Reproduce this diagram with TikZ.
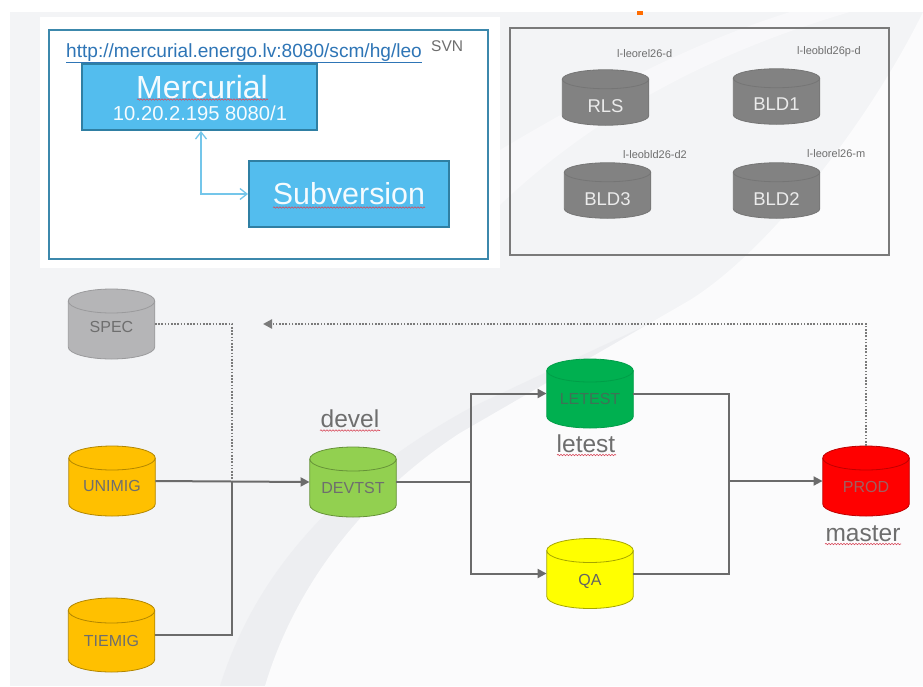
\documentclass[tikz,border=0pt]{standalone}
\usepackage{fontspec}
\setmainfont{Liberation Sans}
\usetikzlibrary{arrows.meta,decorations.pathmorphing}
\definecolor{panel}{HTML}{F3F4F6}
\definecolor{band}{HTML}{EDEEF1}
\definecolor{soft}{HTML}{FBFBFC}
\definecolor{line}{HTML}{6B6B6B}
\definecolor{txt}{HTML}{6E6E6E}
\definecolor{blue}{HTML}{53BDEE}
\definecolor{blueedge}{HTML}{2F7FA3}
\definecolor{frameblue}{HTML}{3C88AC}
\definecolor{lightarrow}{HTML}{74C6EA}
\definecolor{link}{HTML}{2E75B6}
\definecolor{squigred}{HTML}{D8485A}
\definecolor{devg}{HTML}{92D050}
\definecolor{letg}{HTML}{00B050}
\definecolor{qay}{HTML}{FFFF00}
\definecolor{prodr}{HTML}{FF0000}
\definecolor{amb}{HTML}{FFC000}
\definecolor{slate}{HTML}{828282}
\definecolor{specg}{HTML}{B5B5B7}
\tikzset{
  dbtext/.style={rectangle,inner sep=0pt,text height=0pt,text depth=0pt,font=\fontsize{16}{18}\selectfont,text=txt},
  graytext/.style={dbtext,text=white!92!black,font=\fontsize{18.5}{20}\selectfont},
  lettext/.style={dbtext,text=black!30!gray!70!letg},
  qatext/.style={dbtext,text=txt!90!black},
  prodtext/.style={dbtext,text=gray!75!prodr},
  bluebox/.style={rectangle,draw=blueedge,fill=blue,line width=2pt,text=white!94!blue,inner sep=0pt,align=center},
  flow/.style={draw=line,line width=2pt},
  arrowed/.style={-{Triangle[length=9pt,width=9pt]}},
  dots/.style={draw=line!90,line width=2.2pt,dash pattern=on 1.6pt off 1.6pt},
  hostlabel/.style={text=txt,font=\fontsize{11}{13}\selectfont,inner sep=0pt},
  biglabel/.style={text=txt,font=\fontsize{24.5}{26}\selectfont,inner sep=0pt},
  squig/.style={draw=squigred,line width=0.6pt,decorate,decoration={snake,amplitude=0.7pt,segment length=3pt}},
}
% \dbcyl{style}{name}{x}{y}{half height}{y radius}{fill}{edge}{text drop}{label}
\newcommand{\dbcyl}[8]{%
  \def\cylstyle{#1}\def\cylname{#2}\def\cylx{#3}\def\cyly{#4}\def\cylhh{#5}\def\cylry{#6}\def\cylfill{#7}\def\cyledge{#8}\dbcylfinish}
\newcommand{\dbcylfinish}[2]{%
  \begin{scope}[shift={(\cylx,\cyly)}]
    \path[fill=\cylfill,draw=\cyledge,line width=0.8pt]
      (-43.25,-\cylhh+\cylry) arc[start angle=180,end angle=0,x radius=43.25pt,y radius=\cylry pt]
      -- (43.25,\cylhh-\cylry) arc[start angle=0,end angle=-180,x radius=43.25pt,y radius=\cylry pt] -- cycle;
    \draw[draw=\cyledge,line width=0.8pt]
      (-43.25,-\cylhh+\cylry) arc[start angle=180,end angle=360,x radius=43.25pt,y radius=\cylry pt];
  \end{scope}
  \node[\cylstyle,minimum width=86.5pt,minimum height=2*\cylhh pt] (\cylname) at (\cylx,\cyly) {\raisebox{-#1pt}{#2}};
}
\begin{document}
\begin{tikzpicture}[x=1pt,y=-1pt]
\useasboundingbox (0,0) rectangle (923,686);
\fill[white] (0,0) rectangle (923,686);
\fill[panel] (10,12) rectangle (923,686);
% background swoosh
\fill[band] (220,686) .. controls (250,590) and (320,490) .. (470,408) -- (700,300) -- (700,420) -- (400,686) -- cycle;
\fill[soft] (265,686) .. controls (295,585) and (365,495) .. (460,433)
  -- (690,300) .. controls (770,250) and (870,120) .. (923,12) -- (923,686) -- cycle;
\fill[panel!60!white] (500,150) .. controls (600,90) and (700,40) .. (790,12) -- (850,12) .. controls (720,50) and (600,110) .. (500,205) -- cycle;
\fill[orange!85!red] (637,11) rectangle (643,15);
% left panel
\fill[white] (40,17) rectangle (500,268);
\draw[frameblue,line width=2.6pt] (49,30) rectangle (488,259);
\node[anchor=base west,inner sep=0pt,text=link,font=\fontsize{19.1}{21}\selectfont] (url) at (66,57) {\underline{http://mercurial.energo.lv:8080/scm/hg/leo}};
\node[anchor=base west,inner sep=0pt,text=txt,font=\fontsize{15.5}{17}\selectfont] (svn) at (431,51) {SVN};
\node[bluebox,minimum width=235pt,minimum height=66pt] (merc) at (199.5,97) {};
\node[text=white!94!blue,inner sep=0pt,font=\fontsize{32}{34}\selectfont] (merctitle) at (202,87) {Mercurial};
\node[text=white!94!blue,inner sep=0pt,font=\fontsize{20.2}{22}\selectfont] (mercip) at (200,113) {10.20.2.195 8080/1};
\node[bluebox,minimum width=200pt,minimum height=66pt,font=\fontsize{30.4}{32}\selectfont] (sub) at (349,194) {Subversion};
\draw[lightarrow,line width=1.3pt,{Straight Barb[length=7pt,width=11pt]}-{Straight Barb[length=7pt,width=11pt]}] ([xshift=1.5pt]merc.south) |- (sub.west);
\draw[squig] (137,99.5) -- (268,99.5);
\draw[squig] (273,207.5) -- (425,207.5);
% right panel
\draw[line!90,line width=1.3pt] (510,28) rectangle (889,255);
\dbcyl{graytext}{rls}{605.5}{97.5}{27.75}{9.5}{slate}{slate!90!black}{14.5}{RLS}
\dbcyl{graytext}{bld1}{776.5}{96.5}{27.75}{9.5}{slate}{slate!90!black}{13.5}{BLD1}
\dbcyl{graytext}{bld3}{607.5}{190.5}{27.75}{9.5}{slate}{slate!90!black}{14.5}{BLD3}
\dbcyl{graytext}{bld2}{776.5}{190.5}{27.75}{9.5}{slate}{slate!90!black}{14.5}{BLD2}
\node[hostlabel,anchor=west] (h1) at (617,54) {l-leorel26-d};
\node[hostlabel,anchor=west] (h2) at (797,52) {l-leobld26p-d};
\node[hostlabel,anchor=west] (h3) at (623,154.5) {l-leobld26-d2};
\node[hostlabel,anchor=west] (h4) at (807,153.5) {l-leorel26-m};
% flow
\dbcyl{dbtext}{spec}{111.5}{324}{35}{12}{specg}{specg!85!black}{8.7}{SPEC}
\dbcyl{dbtext}{unimig}{112}{481}{35}{12}{amb}{amb!70!black}{10.7}{UNIMIG}
\dbcyl{dbtext}{tiemig}{111.5}{635}{37}{12.5}{amb}{amb!70!black}{11.4}{TIEMIG}
\dbcyl{dbtext}{devtst}{353}{482}{35}{12}{devg}{devg!70!black}{11.7}{DEVTST}
\dbcyl{lettext}{letest}{590}{393.5}{34.5}{11.5}{letg}{letg!90!black}{11.2}{LETEST}
\dbcyl{qatext}{qa}{590}{573.5}{35}{12}{qay}{qay!65!black}{12.2}{QA}
\dbcyl{prodtext}{prod}{866}{481}{35}{12}{prodr}{prodr!75!black}{11.4}{PROD}
\node[biglabel] (devel) at (350,419) {devel};
\node[biglabel] (letestl) at (586,444) {letest};
\node[biglabel] (master) at (863,534) {master};
\draw[squig] (320,430.5) -- (380,430.5);
\draw[squig] (557,455) -- (616,455);
\draw[squig] (825,544) -- (901,544);
\coordinate (jl) at (232,481);
\coordinate (jr) at (471,482);
\coordinate (jm) at (729,481);
\coordinate (tail) at (263,324);
\draw[dots] (spec.east) -| (jl);
\draw[dots,-{Triangle[length=9pt,width=9pt]}] (prod.north) |- (tail);
\draw[flow,arrowed] (unimig.east) -- (devtst.west);
\draw[flow] (tiemig.east) -| (jl);
\draw[flow] (devtst.east) -- (jr);
\draw[flow,arrowed] (jr) |- (letest.west);
\draw[flow,arrowed] (jr) |- (qa.west);
\draw[flow] (letest.east) -| (jm);
\draw[flow] (qa.east) -| (jm);
\draw[flow,arrowed] (jm) -- (prod.west);
\end{tikzpicture}
\end{document}
